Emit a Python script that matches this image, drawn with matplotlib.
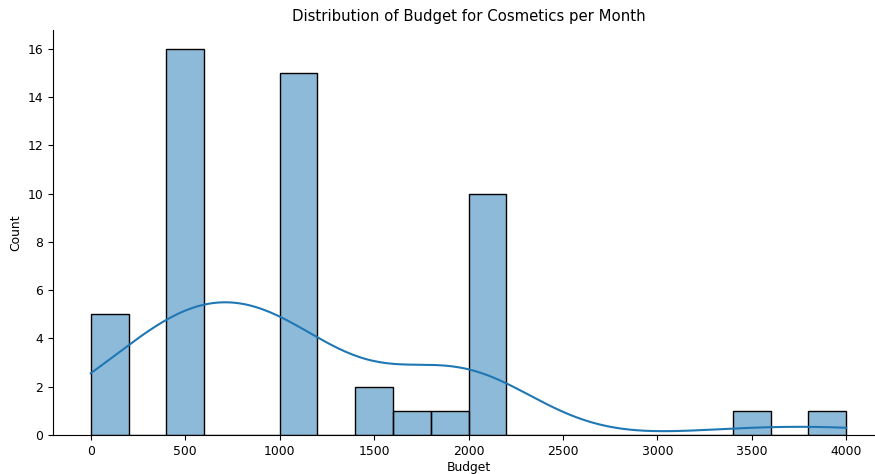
import numpy as np
import matplotlib
matplotlib.use("Agg")
import matplotlib.pyplot as plt
import seaborn as sns

plt.rcParams['font.size'] = 8.9

# monthly cosmetics budget answers and how many people gave each one
budget_values = [0, 500, 1000, 1500, 1700, 1800, 2000, 3500, 4000]
budget_counts = [5, 16, 15, 2, 1, 1, 10, 1, 1]
budget = np.repeat(budget_values, budget_counts)

fig = plt.figure(figsize=(8.75, 4.74), dpi=100)
ax = fig.add_axes([53 / 875, 39 / 474, 831 / 875, 405.5 / 474])

sns.histplot(budget, bins=20, kde=True, ax=ax)
ax.spines['top'].set_visible(False)
ax.spines['right'].set_visible(False)
ax.set_title('Distribution of Budget for Cosmetics per Month')
ax.set_xlabel('Budget', labelpad=2)
ax.set_ylabel('Count')

fig.savefig('out.png', dpi=100)
